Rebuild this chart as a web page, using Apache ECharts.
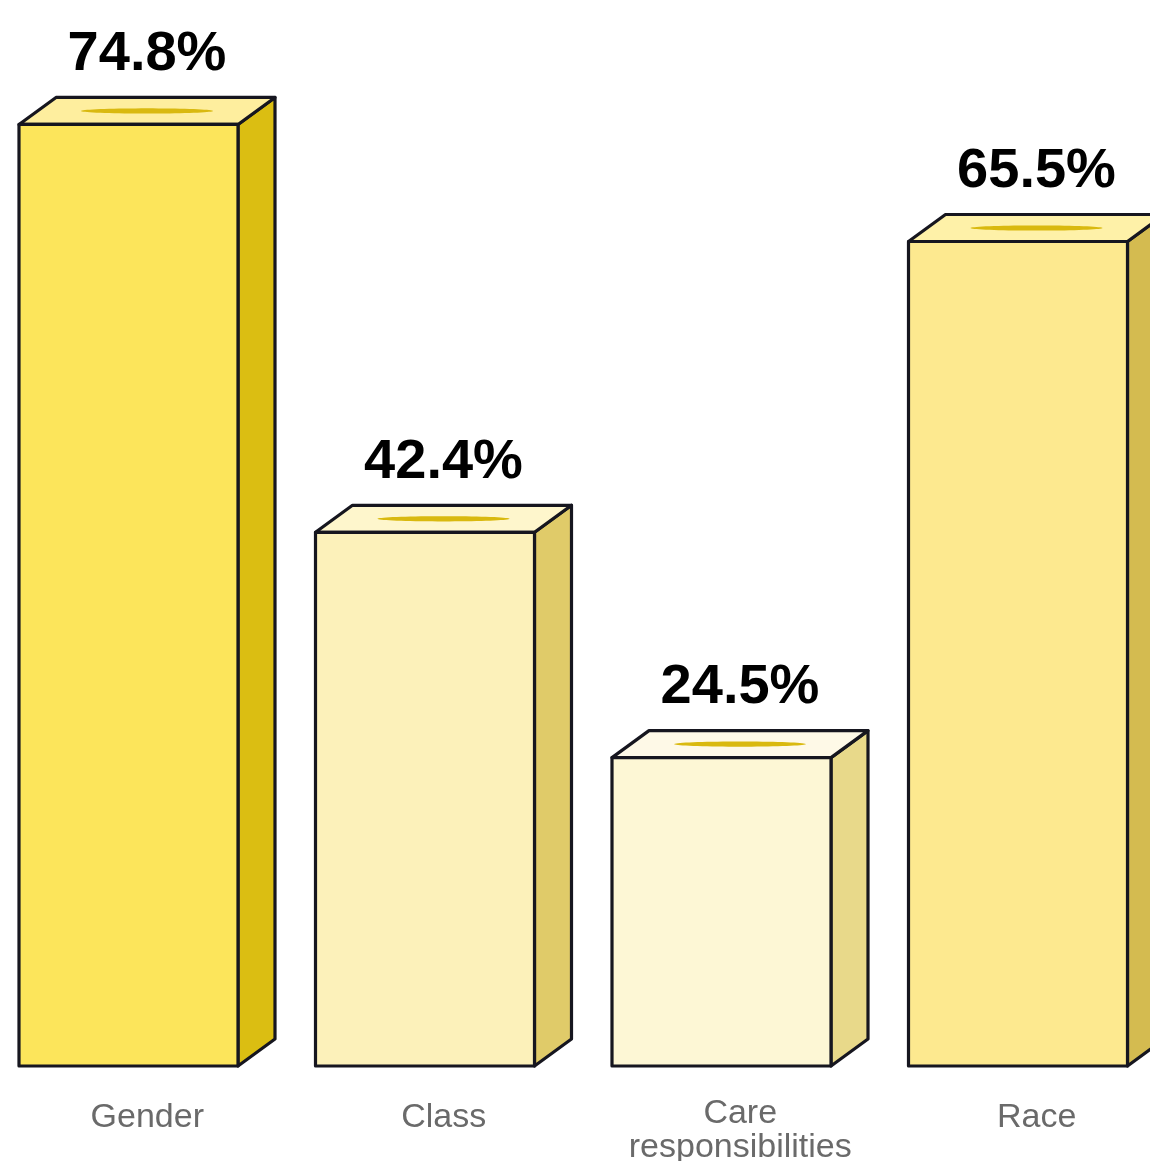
<!DOCTYPE html>
<html>
<head>
<meta charset="utf-8">
<script src="https://cdn.jsdelivr.net/npm/echarts@6/dist/echarts.min.js"></script>
<style>
  html, body { margin: 0; padding: 0; background: #ffffff; }
  #chart { width: 1150px; height: 1161px; }
</style>
</head>
<body>
<div id="chart"></div>
<script>
// Share of respondents by dimension (%)
const categories = ['Gender', 'Class', 'Care\nresponsibilities', 'Race'];
const values = [74.8, 42.4, 24.5, 65.5];

// Box colours per bar: front face, side face, top face
const frontColors = ['#FCE55B', '#FCF1BA', '#FDF7D5', '#FDE98F'];
const sideColors  = ['#DBBE12', '#E0CB69', '#E8D98A', '#D4BB50'];
const topColors   = ['#FEEE9E', '#FEF6CC', '#FEF9E7', '#FEF1A8'];

const OUTLINE = '#16161F';
const SLOT = '#D9B90F';
const FRONT_W = 219;   // front face width
const DEPTH_X = 37;    // isometric depth offsets
const DEPTH_Y = 27;
const FONT = '"Liberation Sans", Arial, sans-serif';

function ellipsePoints(cx, cy, rx, ry, n) {
  const pts = [];
  for (let i = 0; i < n; i++) {
    const a = (i / n) * Math.PI * 2;
    pts.push([cx + rx * Math.cos(a), cy + ry * Math.sin(a)]);
  }
  return pts;
}

function renderBox(params, api) {
  const idx = api.value(0);
  const val = api.value(1);
  const base = api.coord([idx, 0]);
  const top = api.coord([idx, val]);
  const band = api.size([1, 0])[0];
  const x0 = base[0] - band / 2 + 20;
  const x1 = x0 + FRONT_W;
  const yb = base[1];
  const yt = top[1];
  const i = params.dataIndex;
  const lineStyle = { stroke: OUTLINE, lineWidth: 3.2, lineJoin: 'round' };

  const front = {
    type: 'polygon',
    shape: { points: [[x0, yt], [x1, yt], [x1, yb], [x0, yb]] },
    style: Object.assign({ fill: frontColors[i] }, lineStyle)
  };
  const side = {
    type: 'polygon',
    shape: { points: [[x1, yt], [x1 + DEPTH_X, yt - DEPTH_Y], [x1 + DEPTH_X, yb - DEPTH_Y], [x1, yb]] },
    style: Object.assign({ fill: sideColors[i] }, lineStyle)
  };
  const topFace = {
    type: 'polygon',
    shape: { points: [[x0, yt], [x0 + DEPTH_X, yt - DEPTH_Y], [x1 + DEPTH_X, yt - DEPTH_Y], [x1, yt]] },
    style: Object.assign({ fill: topColors[i] }, lineStyle)
  };
  const slotCx = x0 + DEPTH_X / 2 + FRONT_W / 2;
  const slotCy = yt - DEPTH_Y / 2;
  const slot = {
    type: 'polygon',
    shape: { points: ellipsePoints(slotCx, slotCy, 66, 2.6, 72) },
    style: { fill: SLOT }
  };
  const label = {
    type: 'text',
    style: {
      text: val.toFixed(1) + '%',
      x: slotCx,
      y: yt - DEPTH_Y - 15,
      align: 'center',
      verticalAlign: 'bottom',
      fontFamily: FONT,
      fontWeight: 'bold',
      fontSize: 56,
      fill: '#000000'
    }
  };
  return { type: 'group', children: [side, topFace, front, slot, label] };
}

const chart = echarts.init(document.getElementById('chart'), null, { renderer: 'canvas' });
chart.setOption({
  animation: false,
  grid: { left: -1, right: -35, top: 59, bottom: 95, outerBoundsMode: 'none' },
  xAxis: {
    type: 'category',
    data: categories,
    axisLine: { show: false },
    axisTick: { show: false },
    axisLabel: {
      margin: 31,
      interval: 0,
      formatter: function (v) {
        return v.indexOf('\n') >= 0 ? '{m|' + v.split('\n').join('}\n{m|') + '}' : '{s|' + v + '}';
      },
      rich: {
        s: { color: '#6A6A6A', fontSize: 34, lineHeight: 34, fontFamily: FONT, padding: [7, 0, 0, 0] },
        m: { color: '#6A6A6A', fontSize: 34, lineHeight: 34, fontFamily: FONT }
      }
    }
  },
  yAxis: {
    type: 'value',
    min: 0,
    max: 80,
    show: false,
    splitLine: { show: false }
  },
  series: [{
    type: 'custom',
    renderItem: renderBox,
    clip: false,
    data: values.map((v, k) => [k, v])
  }]
});
</script>
</body>
</html>
